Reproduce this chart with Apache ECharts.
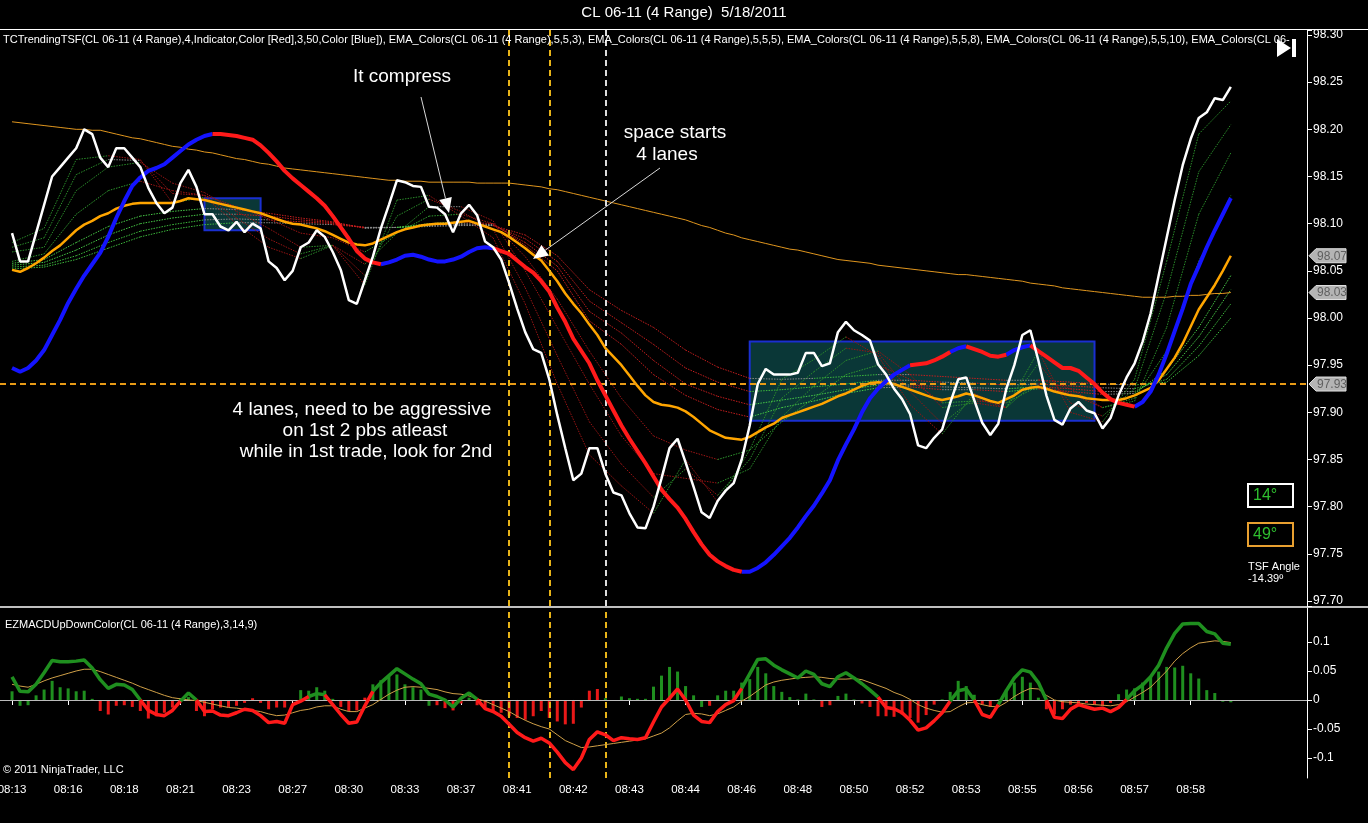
<!DOCTYPE html>
<html><head><meta charset="utf-8">
<script src="https://cdn.jsdelivr.net/npm/echarts@6/dist/echarts.min.js"></script>
<style>html,body{margin:0;padding:0;background:#000;}#c{width:1368px;height:823px;}</style>
</head><body><div id="c"></div>
<script>
// ---------------- DATA ----------------
const tickLabels = ['08:13','08:16','08:18','08:21','08:23','08:27','08:30','08:33','08:37','08:41','08:42','08:43','08:44','08:46','08:48','08:50','08:52','08:53','08:55','08:56','08:57','08:58'];
const macdTicks = [-0.1,-0.05,0,0.05,0.1];
const closes = [98.09,98.06,98.06,98.09,98.12,98.15,98.16,98.17,98.18,98.20,
 98.195,98.17,98.16,98.18,98.18,98.17,98.16,98.138,98.122,98.111,
 98.117,98.143,98.157,98.139,98.11,98.11,98.097,98.093,98.102,98.091,
 98.10,98.095,98.06,98.053,98.04,98.05,98.075,98.08,98.093,98.086,
 98.07,98.051,98.019,98.015,98.04,98.065,98.095,98.12,98.146,98.144,
 98.14,98.139,98.118,98.117,98.11,98.091,98.111,98.12,98.109,98.081,
 98.075,98.062,98.037,98.01,97.985,97.967,97.963,97.935,97.897,97.862,
 97.828,97.835,97.862,97.862,97.835,97.815,97.812,97.793,97.778,97.777,
 97.80,97.83,97.862,97.872,97.847,97.821,97.794,97.788,97.806,97.817,
 97.825,97.85,97.886,97.93,97.946,97.94,97.94,97.94,97.942,97.963,
 97.963,97.949,97.952,97.985,97.996,97.987,97.982,97.976,97.951,97.94,
 97.925,97.914,97.898,97.865,97.862,97.873,97.882,97.91,97.935,97.937,
 97.913,97.889,97.876,97.888,97.925,97.95,97.982,97.987,97.955,97.918,
 97.892,97.887,97.904,97.911,97.902,97.899,97.883,97.894,97.918,97.937,
 97.952,97.975,98.005,98.045,98.085,98.125,98.162,98.19,98.212,98.218,
 98.233,98.231,98.245];
const tsf = [97.947,97.943,97.947,97.955,97.966,97.982,97.998,98.016,98.031,98.045,
 98.057,98.069,98.086,98.106,98.124,98.14,98.149,98.156,98.159,98.163,
 98.17,98.177,98.184,98.189,98.193,98.195,98.195,98.194,98.193,98.191,
 98.189,98.183,98.175,98.166,98.156,98.148,98.141,98.134,98.127,98.119,
 98.108,98.096,98.084,98.071,98.063,98.059,98.057,98.059,98.062,98.066,
 98.067,98.065,98.062,98.06,98.06,98.062,98.065,98.07,98.074,98.075,
 98.074,98.071,98.068,98.061,98.054,98.048,98.039,98.028,98.011,97.996,
 97.978,97.965,97.952,97.934,97.918,97.902,97.886,97.872,97.859,97.846,
 97.832,97.818,97.808,97.799,97.787,97.773,97.76,97.749,97.742,97.737,
 97.733,97.731,97.731,97.735,97.741,97.749,97.758,97.767,97.778,97.79,
 97.801,97.814,97.828,97.849,97.866,97.882,97.9,97.915,97.925,97.933,
 97.94,97.945,97.95,97.951,97.952,97.955,97.959,97.964,97.968,97.97,
 97.967,97.964,97.96,97.959,97.961,97.966,97.969,97.971,97.965,97.959,
 97.953,97.947,97.947,97.944,97.937,97.93,97.921,97.914,97.91,97.908,
 97.906,97.911,97.922,97.94,97.962,97.986,98.01,98.036,98.055,98.075,
 98.093,98.11,98.127];
// bar indices where the TSF switches colour (starts blue = up)
const tsfTurns = [25,46,60,91,112,117,119,124,127,140];
const emaOrange = [98.051,98.049,98.053,98.058,98.064,98.071,98.077,98.085,98.093,98.099,
 98.103,98.108,98.111,98.116,98.119,98.121,98.122,98.122,98.122,98.122,
 98.122,98.124,98.127,98.126,98.125,98.123,98.121,98.119,98.117,98.115,
 98.113,98.111,98.108,98.105,98.102,98.1,98.099,98.097,98.095,98.092,
 98.088,98.084,98.08,98.078,98.077,98.079,98.083,98.087,98.091,98.094,
 98.096,98.098,98.099,98.1,98.1,98.101,98.102,98.103,98.1,98.097,
 98.094,98.091,98.086,98.08,98.074,98.067,98.061,98.05,98.039,98.026,
 98.015,98.005,97.993,97.982,97.968,97.959,97.95,97.939,97.928,97.918,
 97.911,97.908,97.907,97.905,97.901,97.895,97.888,97.881,97.877,97.873,
 97.872,97.871,97.874,97.879,97.884,97.888,97.894,97.897,97.9,97.903,
 97.906,97.909,97.913,97.917,97.92,97.924,97.928,97.931,97.932,97.931,
 97.93,97.927,97.924,97.921,97.918,97.915,97.913,97.915,97.917,97.92,
 97.918,97.915,97.912,97.91,97.914,97.918,97.924,97.926,97.927,97.925,
 97.922,97.92,97.918,97.917,97.915,97.914,97.913,97.913,97.913,97.915,
 97.918,97.922,97.926,97.934,97.946,97.958,97.973,97.991,98.009,98.022,
 98.035,98.05,98.066];
const emaLong = [98.208,98.207,98.206,98.205,98.204,98.203,98.202,98.201,98.2,98.2,
 98.199,98.199,98.197,98.195,98.193,98.191,98.19,98.188,98.186,98.184,
 98.182,98.181,98.179,98.178,98.176,98.175,98.173,98.171,98.169,98.168,
 98.166,98.164,98.163,98.161,98.159,98.158,98.157,98.156,98.155,98.154,
 98.153,98.152,98.151,98.15,98.149,98.148,98.147,98.146,98.146,98.145,
 98.145,98.145,98.144,98.144,98.144,98.144,98.144,98.144,98.143,98.143,
 98.143,98.143,98.143,98.142,98.141,98.14,98.139,98.137,98.136,98.134,
 98.132,98.13,98.128,98.126,98.124,98.122,98.12,98.118,98.116,98.114,
 98.112,98.11,98.108,98.106,98.104,98.101,98.098,98.096,98.093,98.09,
 98.088,98.085,98.083,98.081,98.079,98.077,98.075,98.073,98.072,98.07,
 98.068,98.066,98.064,98.062,98.061,98.06,98.059,98.058,98.056,98.055,
 98.054,98.053,98.052,98.051,98.05,98.049,98.048,98.047,98.046,98.046,
 98.045,98.044,98.043,98.042,98.041,98.04,98.039,98.037,98.036,98.035,
 98.034,98.032,98.031,98.03,98.029,98.028,98.027,98.026,98.025,98.024,
 98.023,98.022,98.022,98.022,98.022,98.023,98.023,98.024,98.024,98.025,
 98.026,98.026,98.027];
// EMA ribbon lines (short-term group F1..F4, long-term group S1..S4), one value every 4 bars
const ribbonStep = 4;
const ribbonF1 = [98.08,98.095,98.168,98.172,98.168,98.122,98.128,98.10,98.075,98.063,98.077,98.035,98.125,98.13,98.108,98.085,98.015,97.93,97.855,97.822,97.793,97.85,97.805,97.86,97.935,97.956,97.98,97.96,97.908,97.877,97.92,97.905,97.965,97.9,97.89,97.935,98.06,98.195,98.23];
const ribbonF2 = [98.075,98.085,98.152,98.168,98.167,98.132,98.13,98.106,98.084,98.068,98.077,98.045,98.108,98.126,98.113,98.094,98.032,97.96,97.89,97.845,97.81,97.84,97.812,97.85,97.915,97.943,97.968,97.963,97.922,97.888,97.915,97.905,97.952,97.91,97.896,97.925,98.028,98.155,98.205];
const ribbonF3 = [98.07,98.075,98.135,98.16,98.165,98.143,98.133,98.113,98.095,98.075,98.077,98.057,98.09,98.118,98.118,98.103,98.05,97.99,97.93,97.875,97.835,97.83,97.825,97.84,97.895,97.928,97.955,97.965,97.94,97.905,97.91,97.905,97.935,97.925,97.905,97.912,97.99,98.11,98.175];
const ribbonF4 = [98.06,98.068,98.11,98.135,98.145,98.135,98.13,98.118,98.105,98.09,98.085,98.07,98.09,98.108,98.11,98.1,98.065,98.02,97.965,97.915,97.875,97.86,97.85,97.86,97.89,97.915,97.94,97.95,97.935,97.91,97.912,97.91,97.928,97.92,97.905,97.915,97.965,98.06,98.13];
const ribbonS1 = [98.058,98.062,98.08,98.097,98.108,98.113,98.116,98.115,98.111,98.106,98.102,98.095,98.096,98.1,98.102,98.1,98.077,98.05,97.997,97.972,97.94,97.918,97.903,97.895,97.905,97.912,97.92,97.926,97.927,97.924,97.924,97.922,97.925,97.922,97.919,97.92,97.945,97.99,98.045];
const ribbonS2 = [98.056,98.059,98.072,98.088,98.1,98.106,98.11,98.11,98.108,98.104,98.101,98.096,98.096,98.099,98.1,98.099,98.08,98.055,98.007,97.984,97.955,97.93,97.917,97.908,97.913,97.918,97.924,97.929,97.929,97.927,97.926,97.925,97.927,97.925,97.922,97.922,97.94,97.98,98.03];
const ribbonS3 = [98.054,98.056,98.066,98.08,98.092,98.099,98.104,98.105,98.104,98.102,98.1,98.096,98.096,98.098,98.099,98.098,98.084,98.06,98.018,97.995,97.972,97.947,97.932,97.922,97.924,97.927,97.93,97.934,97.934,97.932,97.931,97.929,97.93,97.928,97.926,97.925,97.935,97.97,98.015];
const ribbonS4 = [98.052,98.054,98.062,98.074,98.086,98.094,98.099,98.101,98.101,98.1,98.099,98.096,98.096,98.097,98.098,98.098,98.088,98.066,98.03,98.008,97.99,97.966,97.948,97.936,97.935,97.936,97.938,97.94,97.94,97.938,97.936,97.934,97.934,97.932,97.93,97.929,97.932,97.96,98.0];
const levelLine = 97.93;
const boxes = [[24,31,98.127,98.093],[92,135,97.975,97.891]];
const vLines = [62,67,74];
// MACD panel
const macd = [0.040,0.015,0.014,0.027,0.047,0.068,0.066,0.066,0.067,0.069,
 0.055,0.035,0.02,0.027,0.026,0.018,0.0,-0.018,-0.025,-0.027,
 -0.018,-0.002,0.012,0.0,-0.02,-0.019,-0.026,-0.027,-0.022,-0.016,
 -0.018,-0.027,-0.039,-0.037,-0.04,-0.008,-0.002,0.006,0.011,0.009,
 -0.008,-0.025,-0.04,-0.038,-0.01,0.015,0.03,0.042,0.054,0.045,
 0.036,0.028,0.01,0.006,0.0,-0.012,0.003,0.012,0.001,-0.015,
 -0.02,-0.028,-0.042,-0.056,-0.065,-0.071,-0.066,-0.074,-0.09,-0.108,
 -0.12,-0.1,-0.068,-0.055,-0.06,-0.07,-0.065,-0.067,-0.068,-0.065,
 -0.038,-0.012,0.003,0.019,0.0,-0.026,-0.037,-0.039,-0.02,-0.008,
 -0.001,0.02,0.045,0.07,0.071,0.06,0.052,0.045,0.038,0.05,
 0.044,0.028,0.023,0.04,0.047,0.038,0.028,0.017,0.005,-0.013,
 -0.015,-0.022,-0.035,-0.052,-0.048,-0.036,-0.022,-0.002,0.016,0.019,
 0.0,-0.025,-0.03,-0.008,0.016,0.038,0.052,0.048,0.03,0.0,
 -0.03,-0.032,-0.016,-0.008,-0.012,-0.016,-0.014,-0.02,-0.013,0.001,
 0.016,0.026,0.04,0.06,0.09,0.115,0.131,0.132,0.132,0.118,
 0.114,0.098,0.096];
const signalLine = [0.027,0.024,0.022,0.027,0.033,0.038,0.042,0.046,0.05,0.053,
 0.053,0.049,0.044,0.039,0.034,0.029,0.023,0.018,0.013,0.008,
 0.004,0.002,0.0,-0.001,-0.004,-0.007,-0.01,-0.013,-0.014,-0.016,
 -0.018,-0.02,-0.024,-0.027,-0.026,-0.022,-0.018,-0.016,-0.012,-0.01,
 -0.01,-0.016,-0.02,-0.02,-0.014,-0.008,0.001,0.01,0.017,0.022,
 0.023,0.022,0.02,0.018,0.014,0.011,0.01,0.007,0.002,-0.002,
 -0.008,-0.014,-0.02,-0.028,-0.035,-0.041,-0.046,-0.05,-0.06,-0.07,
 -0.076,-0.082,-0.081,-0.079,-0.077,-0.075,-0.073,-0.071,-0.069,-0.067,
 -0.062,-0.057,-0.048,-0.036,-0.025,-0.023,-0.024,-0.027,-0.024,-0.018,
 -0.012,-0.002,0.006,0.016,0.026,0.031,0.034,0.036,0.038,0.039,
 0.04,0.039,0.037,0.036,0.036,0.037,0.035,0.03,0.025,0.02,
 0.013,0.008,0.001,-0.008,-0.014,-0.018,-0.021,-0.02,-0.012,-0.005,
 -0.004,-0.008,-0.011,-0.012,-0.004,0.006,0.014,0.02,0.019,0.008,
 0.0,-0.003,-0.004,-0.005,-0.007,-0.008,-0.009,-0.01,-0.008,-0.003,
 0.005,0.013,0.022,0.036,0.05,0.067,0.08,0.09,0.098,0.1,
 0.102,0.101,0.099];
const hist = [0.015,-0.01,-0.009,0.008,0.018,0.033,0.022,0.02,0.015,0.016,
 0.002,-0.019,-0.025,-0.01,-0.009,-0.012,-0.019,-0.032,-0.028,-0.022,
 -0.013,0.003,0.005,-0.019,-0.028,-0.016,-0.013,-0.012,-0.01,-0.005,
 0.003,-0.005,-0.016,-0.013,-0.013,-0.002,0.017,0.016,0.022,0.016,
 0.002,-0.012,-0.019,-0.018,0.004,0.027,0.034,0.041,0.044,0.027,
 0.022,0.018,-0.01,-0.009,-0.014,-0.018,-0.006,0.004,-0.009,-0.013,
 -0.019,-0.022,-0.028,-0.031,-0.034,-0.028,-0.019,-0.031,-0.037,-0.042,
 -0.041,-0.013,0.016,0.019,0.003,0.0,0.006,0.003,0.002,0.002,
 0.023,0.042,0.057,0.049,0.024,0.008,-0.012,-0.01,0.008,0.016,
 0.016,0.03,0.036,0.057,0.046,0.024,0.014,0.005,0.001,0.011,
 0.001,-0.012,-0.009,0.007,0.011,0.001,-0.006,-0.012,-0.028,-0.028,
 -0.029,-0.025,-0.031,-0.039,-0.026,-0.008,0.001,0.014,0.033,0.024,
 0.009,-0.008,-0.012,0.001,0.018,0.03,0.04,0.03,0.004,-0.016,
 -0.025,-0.016,-0.008,-0.009,-0.005,-0.008,-0.01,-0.005,0.01,0.018,
 0.02,0.03,0.04,0.049,0.057,0.056,0.059,0.046,0.037,0.017,
 0.012,-0.003,-0.004];
// histogram bars whose colour is the opposite of their sign
const histColorFlips = [1,2,30,44,52,72,73,86,151,152];
// bar indices where the MACD line switches colour (starts green)
const macdTurns = [16,21,23,37,39,45,58,91,108,117,120,123,129,139];

// ---------------- HELPERS ----------------
const N = closes.length, LEAD = 1, TRAIL = 9;
const cats = Array.from({length: N + LEAD + TRAIL}, (_, j) => 'c' + j);
const pad = a => [null].concat(a);
function stateUp(turns, seg) { let n = 0; for (const t of turns) if (seg >= t) n++; return n % 2 === 0; }
function split(vals, turns) {
  const up = [], dn = [];
  for (let i = 0; i < vals.length; i++) {
    const a = i > 0 ? stateUp(turns, i - 1) : null, b = i < vals.length - 1 ? stateUp(turns, i) : null;
    up.push(a === true || b === true ? vals[i] : null);
    dn.push(a === false || b === false ? vals[i] : null);
  }
  return [pad(up), pad(dn)];
}
const [tsfUp, tsfDn] = split(tsf, tsfTurns);
const [macdUp, macdDn] = split(macd, macdTurns);
function ribbon(vals, up, down) {
  const data = [];
  for (let k = 0; k < vals.length - 1; k++) data.push([LEAD + k * ribbonStep, vals[k], LEAD + (k + 1) * ribbonStep, vals[k + 1]]);
  return {type: 'custom', xAxisIndex: 0, yAxisIndex: 0, z: 3, silent: true, encode: {x: [0, 2], y: [1, 3]}, data,
    renderItem: (p, api) => {
      const a = api.coord([api.value(0), api.value(1)]), b = api.coord([api.value(2), api.value(3)]);
      const dv = api.value(3) - api.value(1);
      const col = dv > 0.0012 ? up : dv < -0.0012 ? down : '#8a8a8a';
      return {type: 'line', shape: {x1: a[0], y1: a[1], x2: b[0], y2: b[1]}, style: {stroke: col, lineWidth: 1, lineDash: [1.5, 1.2]}};
    }};
}
const FONT = 'Liberation Sans, Arial, sans-serif';
const labelInterval = idx => { const b = idx - LEAD; return b >= 0 && b % 7 === 0 && b / 7 < tickLabels.length; };

const chart = echarts.init(document.getElementById('c'), null, {renderer: 'canvas'});
const option = {
  backgroundColor: '#000', animation: false,
  grid: [{left: 0, top: 30, width: 1307, height: 576, outerBoundsMode: 'none', containLabel: false},
         {left: 0, top: 608, width: 1307, height: 170, outerBoundsMode: 'none', containLabel: false}],
  xAxis: [
    {type: 'category', gridIndex: 0, data: cats, boundaryGap: true, show: false},
    {type: 'category', gridIndex: 1, data: cats, boundaryGap: true,
     axisLine: {show: true, lineStyle: {color: '#fff', width: 1}},
     axisTick: {show: true, alignWithLabel: true, interval: labelInterval, length: 5, lineStyle: {color: '#fff'}},
     axisLabel: {interval: labelInterval, color: '#fff', fontSize: 11.5, fontFamily: FONT, margin: 6, hideOverlap: false,
       formatter: (v) => { const b = parseInt(v.slice(1)) - LEAD; return tickLabels[b / 7] || ''; }},
     splitLine: {show: false}}
  ],
  yAxis: [
    {type: 'value', gridIndex: 0, position: 'right', min: 97.6947, max: 98.3053, splitNumber: 12, scale: true,
     axisLine: {show: true, lineStyle: {color: '#fff'}}, axisTick: {show: true, length: 5, lineStyle: {color: '#fff'}},
     axisLabel: {color: '#fff', fontSize: 12, fontFamily: FONT, margin: 6,
       formatter: v => Math.abs(v / 0.05 - Math.round(v / 0.05)) < 1e-6 ? v.toFixed(2) : ''},
     splitLine: {show: false}},
    {type: 'value', gridIndex: 1, position: 'right', min: -0.1345, max: 0.1586, splitNumber: 6,
     axisLine: {show: true, lineStyle: {color: '#fff'}},
     axisTick: {show: true, length: 5, lineStyle: {color: '#fff'}, customValues: macdTicks},
     axisLabel: {color: '#fff', fontSize: 12, fontFamily: FONT, margin: 6, customValues: macdTicks,
       formatter: v => (Math.abs(v * 20 - Math.round(v * 20)) < 1e-6 && v < 0.12) ? String(+v.toFixed(2)) : ''},
     splitLine: {show: false}}
  ],
  series: [
    {type: 'line', name: 'emaLong', xAxisIndex: 0, yAxisIndex: 0, data: pad(emaLong), showSymbol: false, z: 3,
     lineStyle: {color: '#e0961e', width: 1}, silent: true,
     markArea: {silent: true, z: 1, itemStyle: {color: 'rgba(16,92,92,0.6)', borderColor: '#1a2fd0', borderWidth: 2},
       data: boxes.map(b => [{xAxis: cats[b[0] + LEAD], yAxis: b[2]}, {xAxis: cats[b[1] + LEAD], yAxis: b[3]}])}},
    ribbon(ribbonS4, '#3cb83c', '#c41e1e'), ribbon(ribbonS3, '#3cb83c', '#c41e1e'),
    ribbon(ribbonS2, '#46c846', '#c41e1e'), ribbon(ribbonS1, '#46c846', '#c41e1e'),
    ribbon(ribbonF4, '#2f9a2f', '#a01616'), ribbon(ribbonF3, '#2a8c2a', '#981414'),
    ribbon(ribbonF2, '#2a8c2a', '#981414'), ribbon(ribbonF1, '#2a8c2a', '#981414'),
    {type: 'line', name: 'ema', xAxisIndex: 0, yAxisIndex: 0, data: pad(emaOrange), showSymbol: false, z: 4,
     lineStyle: {color: '#ffa500', width: 2.5}, silent: true},
    {type: 'line', name: 'tsfUp', xAxisIndex: 0, yAxisIndex: 0, data: tsfUp, showSymbol: false, z: 5, connectNulls: false,
     lineStyle: {color: '#1414ff', width: 4}, silent: true},
    {type: 'line', name: 'tsfDn', xAxisIndex: 0, yAxisIndex: 0, data: tsfDn, showSymbol: false, z: 5, connectNulls: false,
     lineStyle: {color: '#ff1a1a', width: 4}, silent: true},
    {type: 'line', name: 'close', xAxisIndex: 0, yAxisIndex: 0, data: pad(closes), showSymbol: false, z: 6,
     lineStyle: {color: '#ffffff', width: 2.5}, silent: true,
     markLine: {silent: true, symbol: 'none', z: 5, label: {show: false},
       data: [
         {yAxis: levelLine, lineStyle: {color: '#e89b16', width: 2, type: [6, 4]}},
         {xAxis: cats[vLines[0] + LEAD], lineStyle: {color: '#e8b418', width: 2, type: [6, 4]}},
         {xAxis: cats[vLines[1] + LEAD], lineStyle: {color: '#e8b418', width: 2, type: [6, 4]}},
         {xAxis: cats[vLines[2] + LEAD], lineStyle: {color: '#dddddd', width: 2, type: [6, 4]}}
       ]}},
    {type: 'bar', name: 'hist', xAxisIndex: 1, yAxisIndex: 1, barWidth: 3, silent: true, z: 2,
     data: pad(hist.map((v, i) => {
       const up = (v >= 0) !== histColorFlips.includes(i);
       return {value: v, itemStyle: {color: up ? '#1f8f1f' : '#e81818'}};
     })),
     markLine: {silent: true, symbol: 'none', z: 3, label: {show: false},
       data: [
         {yAxis: 0, lineStyle: {color: '#bbbbbb', width: 1, type: 'solid'}},
         ...vLines.map(v => ({xAxis: cats[v + LEAD], lineStyle: {color: '#e8b418', width: 2, type: [6, 4]}}))
       ]}},
    {type: 'line', name: 'signal', xAxisIndex: 1, yAxisIndex: 1, data: pad(signalLine), showSymbol: false, z: 4,
     lineStyle: {color: '#d0a048', width: 1}, silent: true},
    {type: 'line', name: 'macdUp', xAxisIndex: 1, yAxisIndex: 1, data: macdUp, showSymbol: false, z: 5,
     lineStyle: {color: '#1f8f1f', width: 3.5}, silent: true},
    {type: 'line', name: 'macdDn', xAxisIndex: 1, yAxisIndex: 1, data: macdDn, showSymbol: false, z: 5,
     lineStyle: {color: '#ff1a1a', width: 3.5}, silent: true}
  ]
};
chart.setOption(option);

// ---------------- OVERLAY (frame, texts, annotations) ----------------
function txt(x, y, text, size, fill, align) {
  return {type: 'text', x, y, silent: true, z: 100,
    style: {text, fill: fill || '#fff', font: size + 'px ' + FONT, textAlign: align || 'left', textVerticalAlign: 'middle'}};
}
function arrow(x1, y1, x2, y2) {
  const a = Math.atan2(y2 - y1, x2 - x1), L = 15, W = 6.5;
  const bx = x2 - L * Math.cos(a), by = y2 - L * Math.sin(a);
  return [
    {type: 'line', silent: true, z: 100, shape: {x1, y1, x2: bx, y2: by}, style: {stroke: '#d8d8d8', lineWidth: 1}},
    {type: 'polygon', silent: true, z: 100, shape: {points: [[x2, y2], [bx - W * Math.sin(a), by + W * Math.cos(a)], [bx + W * Math.sin(a), by - W * Math.cos(a)]]}, style: {fill: '#ffffff'}}
  ];
}
function tag(val) {
  const y = chart.convertToPixel({yAxisIndex: 0}, val);
  return [
    {type: 'polygon', silent: true, z: 100, shape: {points: [[1309, y], [1316, y - 7], [1346, y - 7], [1346, y + 7], [1316, y + 7]]}, style: {fill: '#b4b4b4', stroke: '#e0e0e0', lineWidth: 1}},
    txt(1317, y + 0.5, val.toFixed(2), 12, '#606060')
  ];
}
const g = [
  {type: 'line', silent: true, z: 90, shape: {x1: 0, y1: 29.5, x2: 1368, y2: 29.5}, style: {stroke: '#fff', lineWidth: 1}},
  {type: 'line', silent: true, z: 90, shape: {x1: 0, y1: 607, x2: 1368, y2: 607}, style: {stroke: '#fff', lineWidth: 1.5}},
  txt(684, 13, 'CL 06-11 (4 Range)  5/18/2011', 15, '#ffffff', 'center'),
  txt(3, 40, 'TCTrendingTSF(CL 06-11 (4 Range),4,Indicator,Color [Red],3,50,Color [Blue]), EMA_Colors(CL 06-11 (4 Range),5,5,3), EMA_Colors(CL 06-11 (4 Range),5,5,5), EMA_Colors(CL 06-11 (4 Range),5,5,8), EMA_Colors(CL 06-11 (4 Range),5,5,10), EMA_Colors(CL 06-', 11),
  txt(5, 625, 'EZMACDUpDownColor(CL 06-11 (4 Range),3,14,9)', 11),
  txt(3, 770, '\u00a9 2011 NinjaTrader, LLC', 11),
  txt(402, 77, 'It compress', 19, '#fff', 'center'),
  txt(675, 133, 'space starts', 19, '#fff', 'center'),
  txt(667, 155, '4 lanes', 19, '#fff', 'center'),
  txt(362, 410, '4 lanes, need to be aggressive', 19, '#fff', 'center'),
  txt(365, 431, 'on 1st 2 pbs atleast', 19, '#fff', 'center'),
  txt(366, 452, 'while in 1st trade, look for 2nd', 19, '#fff', 'center'),
  ...arrow(421, 97, 449, 213),
  ...arrow(660, 168, 533, 259),
  {type: 'rect', silent: true, z: 100, shape: {x: 1248, y: 484, width: 45, height: 23}, style: {fill: '#000', stroke: '#ffffff', lineWidth: 2}},
  txt(1253, 496, '14°', 16, '#2fbf2f'),
  {type: 'rect', silent: true, z: 100, shape: {x: 1248, y: 523, width: 45, height: 23}, style: {fill: '#000', stroke: '#e8a030', lineWidth: 2}},
  txt(1253, 535, '49°', 16, '#2fbf2f'),
  txt(1248, 567, 'TSF Angle', 11),
  txt(1248, 579, '-14.39º', 11),
  {type: 'polygon', silent: true, z: 100, shape: {points: [[1277, 39], [1277, 57], [1291, 48]]}, style: {fill: '#fff'}},
  {type: 'rect', silent: true, z: 100, shape: {x: 1292, y: 39, width: 4, height: 18}, style: {fill: '#fff'}},
  ...tag(emaOrange[N - 1]), ...tag(emaLong[N - 1]), ...tag(levelLine)
];
chart.setOption({graphic: g});
</script></body></html>
